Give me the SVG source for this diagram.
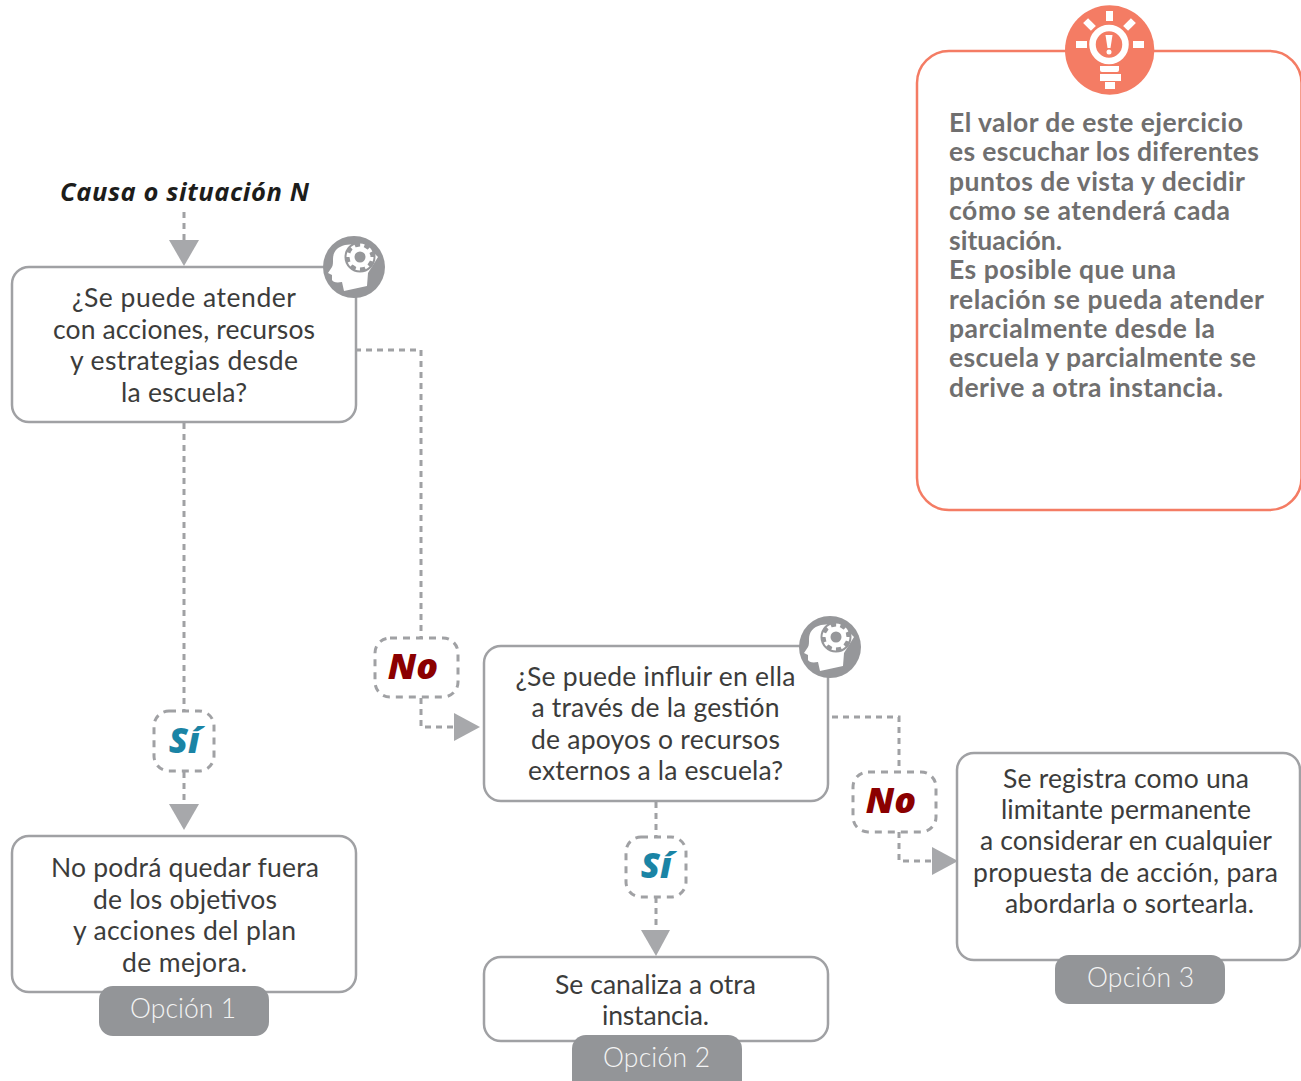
<svg xmlns="http://www.w3.org/2000/svg" xmlns:xlink="http://www.w3.org/1999/xlink" width="1301" height="1081" viewBox="0 0 1301 1081">
<style>
text{font-family:"Lato","Noto Sans",sans-serif}
.box{fill:#fff;stroke:#a0a1a4;stroke-width:2.5}
.t{font-size:26.5px;fill:#3c3c3b;text-anchor:middle}
.dash{fill:none;stroke:#a0a1a4;stroke-width:3;stroke-dasharray:6 5}
.lab{fill:#fff;stroke:#a0a1a4;stroke-width:3;stroke-dasharray:7 6}
.arrow{fill:#a7a8ab}
.tab{fill:#939598}
.tabt{font-size:26.5px;font-weight:300;fill:#f4f4f4;text-anchor:middle}
.no,.si,.causa{font-family:"Open Sans","Lato",sans-serif;font-weight:800;font-style:italic;text-anchor:middle}
.no{font-size:36px;fill:#8b0000}
.si{font-size:35px;fill:#1a84a5}
.causa{font-size:25.5px;font-weight:700;fill:#1d1d1b}
.p{font-size:26.5px;font-weight:700;fill:#706f6f}
</style>
<defs>
<g id="head">
<circle cx="0" cy="0" r="31" fill="#96979a"/>
<path d="M-9-22C-17-20-21-15-21-8C-21-4-21-2-22 0L-26 6L-22 8L-22 13C-21 15-18 16-12 15L-10 24L13 19L14 6L24-10L10-24Z" fill="#fff"/>
<circle cx="6" cy="-10" r="15.500" fill="#96979a"/>
<circle cx="6" cy="-10" r="10.500" fill="#fff"/>
<circle cx="6" cy="-10" r="11.500" fill="none" stroke="#fff" stroke-width="4" stroke-dasharray="4 5"/>
<circle cx="6" cy="-10" r="5.500" fill="#96979a"/>
</g>
</defs>
<g id="connectors">
<path class="dash" d="M184 212V245"/>
<path class="dash" d="M184 423V711"/>
<path class="dash" d="M184 772V808"/>
<path class="dash" d="M355 350H421V637"/>
<path class="dash" d="M421 698V727H456"/>
<path class="dash" d="M656 802V836"/>
<path class="dash" d="M656 897V934"/>
<path class="dash" d="M832 717H899V771"/>
<path class="dash" d="M899 832V861H934"/>
<path class="arrow" d="M169 240H199L184 266Z"/>
<path class="arrow" d="M169 804H199L184 830Z"/>
<path class="arrow" d="M454 713V741L480 727Z"/>
<path class="arrow" d="M641 930H670L656 956Z"/>
<path class="arrow" d="M932 847V875L958 861Z"/>
</g>
<g id="causa"><text class="causa" x="184.500" y="201" textLength="249">Causa o situación N</text></g>
<g id="n1">
<rect class="box" x="12" y="267" width="344" height="155" rx="17"/>
<text class="t" x="184" y="307" textLength="224">¿Se puede atender</text>
<text class="t" x="184" y="339" textLength="262">con acciones, recursos</text>
<text class="t" x="184" y="370" textLength="228">y estrategias desde</text>
<text class="t" x="184" y="402" textLength="126">la escuela?</text>
<use xlink:href="#head" href="#head" x="354" y="267"/>
</g>
<g id="n2">
<rect class="box" x="484" y="646" width="344" height="155" rx="17"/>
<text class="t" x="655.500" y="686" textLength="280">¿Se puede influir en ella</text>
<text class="t" x="655.500" y="717" textLength="248">a través de la gestión</text>
<text class="t" x="655.500" y="749" textLength="249">de apoyos o recursos</text>
<text class="t" x="655.500" y="780" textLength="255">externos a la escuela?</text>
<use xlink:href="#head" href="#head" x="830" y="647"/>
</g>
<g id="n3">
<rect class="box" x="12" y="836" width="344" height="156" rx="17"/>
<rect class="tab" x="99" y="986" width="170" height="50" rx="14"/>
<text class="t" x="185" y="877" textLength="268">No podrá quedar fuera</text>
<text class="t" x="185" y="909" textLength="184">de los objetivos</text>
<text class="t" x="184.500" y="940" textLength="223">y acciones del plan</text>
<text class="t" x="184.500" y="972" textLength="125">de mejora.</text>
<text class="tabt" x="183" y="1018" textLength="106">Opción 1</text>
</g>
<g id="n4">
<rect class="box" x="484" y="957" width="344" height="84" rx="17"/>
<rect class="tab" x="572" y="1035" width="170" height="60" rx="14"/>
<text class="t" x="655.500" y="994" textLength="201">Se canaliza a otra</text>
<text class="t" x="655.500" y="1025" textLength="107">instancia.</text>
<text class="tabt" x="656.500" y="1067" textLength="107">Opción 2</text>
</g>
<g id="n5">
<rect class="box" x="957" y="753" width="343" height="207" rx="17"/>
<rect class="tab" x="1055" y="955" width="170" height="49" rx="14"/>
<text class="t" x="1126" y="788" textLength="246">Se registra como una</text>
<text class="t" x="1126" y="819" textLength="250">limitante permanente</text>
<text class="t" x="1126" y="850" textLength="292">a considerar en cualquier</text>
<text class="t" x="1125.500" y="882" textLength="305">propuesta de acción, para</text>
<text class="t" x="1129.500" y="913" textLength="249">abordarla o sortearla.</text>
<text class="tabt" x="1140.500" y="987" textLength="107">Opción 3</text>
</g>
<g id="no1">
<rect class="lab" x="375" y="638" width="83" height="59" rx="15"/>
<text class="no" x="413" y="679">No</text>
</g>
<g id="si1">
<rect class="lab" x="154" y="711" width="60" height="60" rx="15"/>
<text class="si" x="184" y="753">Sí</text>
</g>
<g id="si2">
<rect class="lab" x="626" y="837" width="60" height="60" rx="15"/>
<text class="si" x="656" y="878">Sí</text>
</g>
<g id="no2">
<rect class="lab" x="853" y="772" width="83" height="60" rx="15"/>
<text class="no" x="891" y="813">No</text>
</g>
<g id="nota">
<rect x="917" y="51" width="384.500" height="459" rx="32" fill="#fff" stroke="#f47c64" stroke-width="2.500"/>
<circle cx="1109.700" cy="50" r="44.700" fill="#f47c64"/>
<g fill="#fff">
<rect x="1106" y="11" width="7" height="10"/>
<rect x="1076" y="41" width="11" height="7"/>
<rect x="1133" y="41" width="11" height="7"/>
<rect x="-5.500" y="-3.500" width="11" height="7" transform="translate(1089.500 24.500) rotate(45)"/>
<rect x="-5.500" y="-3.500" width="11" height="7" transform="translate(1129.500 24.500) rotate(-45)"/>
<circle cx="1109" cy="44.500" r="16.500" fill="#f47c64" stroke="#fff" stroke-width="6.500"/>
<path d="M1105.500 35H1112.500L1110.500 48H1107.500Z"/>
<circle cx="1109" cy="52" r="2.500"/>
<path d="M1100 66H1119V70Q1119 72 1117 72H1102Q1100 72 1100 70Z"/>
<rect x="1100" y="74" width="21" height="7"/>
<rect x="1105" y="82" width="10" height="7"/>
</g>
<g class="p">
<text x="949" y="132" textLength="294">El valor de este ejercicio</text>
<text x="949" y="161" textLength="310">es escuchar los diferentes</text>
<text x="949" y="191" textLength="296">puntos de vista y decidir</text>
<text x="949" y="220" textLength="281">cómo se atenderá cada</text>
<text x="949" y="250" textLength="113">situación.</text>
<text x="949" y="279" textLength="227">Es posible que una</text>
<text x="949" y="309" textLength="315">relación se pueda atender</text>
<text x="949" y="338" textLength="266">parcialmente desde la</text>
<text x="949" y="367" textLength="307">escuela y parcialmente se</text>
<text x="949" y="397" textLength="274">derive a otra instancia.</text>
</g>
</g>
</svg>
